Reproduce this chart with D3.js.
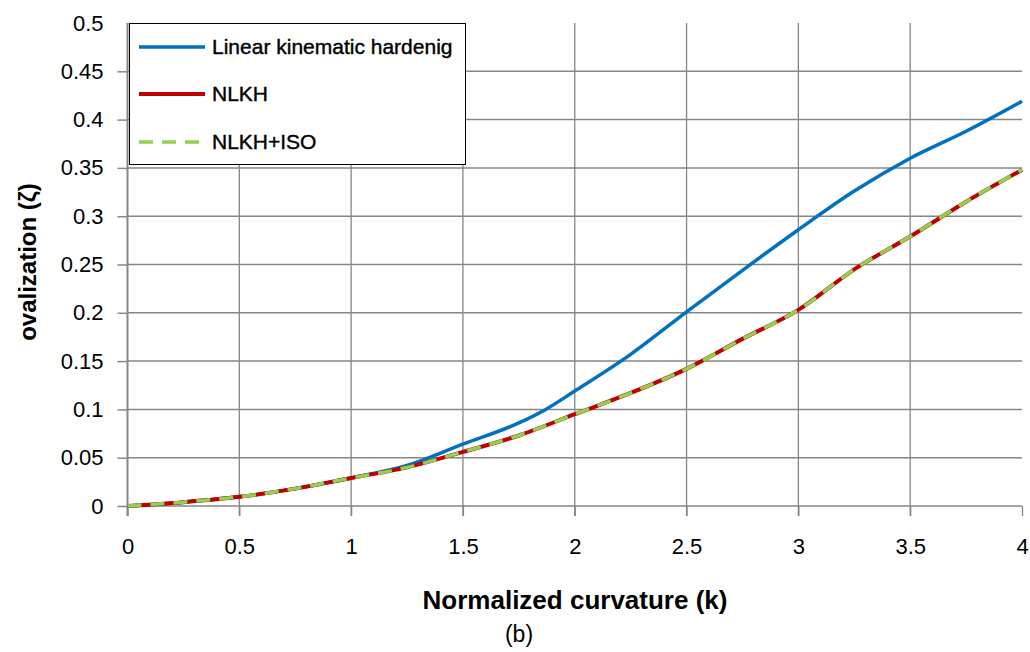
<!DOCTYPE html>
<html><head><meta charset="utf-8">
<script src="https://cdn.jsdelivr.net/npm/d3@7"></script>
<style>
html,body{margin:0;padding:0;background:#fff;}
svg{display:block;font-family:"Liberation Sans",Arial,sans-serif;}
</style></head>
<body><svg id="c" width="1030" height="652"></svg>
<script>
const curvature = [0,0.25,0.5,0.75,1.0,1.25,1.5,1.75,1.87,2.0,2.25,2.5,2.75,3.0,3.25,3.5,3.75,4.0];
const linearKin = [0,0.004,0.0095,0.018,0.029,0.042,0.064,0.086,0.100,0.119,0.157,0.201,0.244,0.286,0.326,0.360,0.388,0.419];
const curvature2 = [0,0.25,0.5,0.75,1.0,1.25,1.5,1.75,2.0,2.25,2.5,2.75,3.0,3.25,3.5,3.75,4.0];
const nlkh = [0,0.004,0.0095,0.018,0.029,0.040,0.056,0.073,0.095,0.117,0.142,0.173,0.203,0.245,0.279,0.315,0.348];
const nlkhIso = [0,0.004,0.0095,0.018,0.029,0.040,0.056,0.073,0.095,0.117,0.142,0.173,0.203,0.245,0.279,0.315,0.348];
const xTicks = [0,0.5,1,1.5,2,2.5,3,3.5,4];
const yTicks = [0,0.05,0.1,0.15,0.2,0.25,0.3,0.35,0.4,0.45,0.5];
const seriesNames = ["Linear kinematic hardenig","NLKH","NLKH+ISO"];

const svg = d3.select("#c");
const x = d3.scaleLinear().domain([0,4]).range([127.5,1022]);
const y = d3.scaleLinear().domain([0,0.5]).range([506,23]);
const grid = "#868686";

// gridlines
svg.append("g").selectAll("line.h").data(yTicks.filter(d=>d<0.5)).join("line")
  .attr("x1",x(0)).attr("x2",x(4)).attr("y1",d=>y(d)).attr("y2",d=>y(d))
  .attr("stroke",grid).attr("stroke-width",1.5);
svg.append("g").selectAll("line.v").data(xTicks.filter(d=>d>0&&d<4)).join("line")
  .attr("x1",d=>x(d)).attr("x2",d=>x(d)).attr("y1",y(0.5)).attr("y2",y(0)+10)
  .attr("stroke",grid).attr("stroke-width",1.3);

// axes
const yAxis = svg.append("g").attr("transform",`translate(${x(0)},0)`)
  .call(d3.axisLeft(y).tickValues(yTicks).tickSize(10).tickPadding(14).tickFormat(d=>String(+d.toFixed(2))));
yAxis.select(".domain").remove();
yAxis.selectAll(".tick line").attr("stroke",grid).attr("stroke-width",1.5).filter(d=>d===0.5).remove();
yAxis.selectAll(".tick text").attr("font-size",22).attr("fill","#000").attr("font-family","Liberation Sans, Arial, sans-serif");
svg.append("line").attr("x1",x(0)).attr("x2",x(0)).attr("y1",y(0.5)).attr("y2",y(0)+10)
  .attr("stroke",grid).attr("stroke-width",2);

const xAxis = svg.append("g").attr("transform",`translate(0,${y(0)})`)
  .call(d3.axisBottom(x).tickValues(xTicks).tickSize(10).tickPadding(22).tickFormat(d=>String(d)));
xAxis.select(".domain").remove();
xAxis.selectAll(".tick line").attr("stroke",grid).attr("stroke-width",1.3);
xAxis.selectAll(".tick text").attr("font-size",22).attr("fill","#000").attr("font-family","Liberation Sans, Arial, sans-serif");

// lines
const line = d3.line().x(d=>x(d[0])).y(d=>y(d[1])).curve(d3.curveMonotoneX);
svg.append("path").datum(d3.zip(curvature,linearKin)).attr("d",line)
  .attr("fill","none").attr("stroke","#0070C0").attr("stroke-width",3.5);
svg.append("path").datum(d3.zip(curvature2,nlkh)).attr("d",line)
  .attr("fill","none").attr("stroke","#C00000").attr("stroke-width",4);
svg.append("path").datum(d3.zip(curvature2,nlkhIso)).attr("d",line)
  .attr("fill","none").attr("stroke","#92D050").attr("stroke-width",3.5).attr("stroke-dasharray","14,9");

// legend
const lg = svg.append("g");
lg.append("rect").attr("x",129.5).attr("y",23.5).attr("width",336).attr("height",141)
  .attr("fill","#fff").attr("stroke","#000").attr("stroke-width",1);
const lgColors = ["#0070C0","#C00000","#92D050"];
const lgY = [47,94,142];
seriesNames.forEach((n,i)=>{
  lg.append("line").attr("x1",139).attr("x2",205).attr("y1",lgY[i]).attr("y2",lgY[i])
    .attr("stroke",lgColors[i]).attr("stroke-width",i===1?4:3.5)
    .attr("stroke-dasharray",i===2?"14,9":null);
  lg.append("text").attr("x",212).attr("y",lgY[i]+7).text(n)
    .attr("font-size",21).attr("fill","#000").attr("stroke","#000").attr("stroke-width",0.4);
});

// titles
svg.append("text").attr("x",575).attr("y",609).attr("text-anchor","middle")
  .attr("font-size",26).attr("font-weight","bold").text("Normalized curvature (k)");
svg.append("text").attr("x",519).attr("y",642).attr("text-anchor","middle")
  .attr("font-size",23).text("(b)");
svg.append("text").attr("transform","translate(36,262) rotate(-90)").attr("text-anchor","middle")
  .attr("font-size",24).attr("font-weight","bold").text("ovalization (ζ)");
</script></body></html>
